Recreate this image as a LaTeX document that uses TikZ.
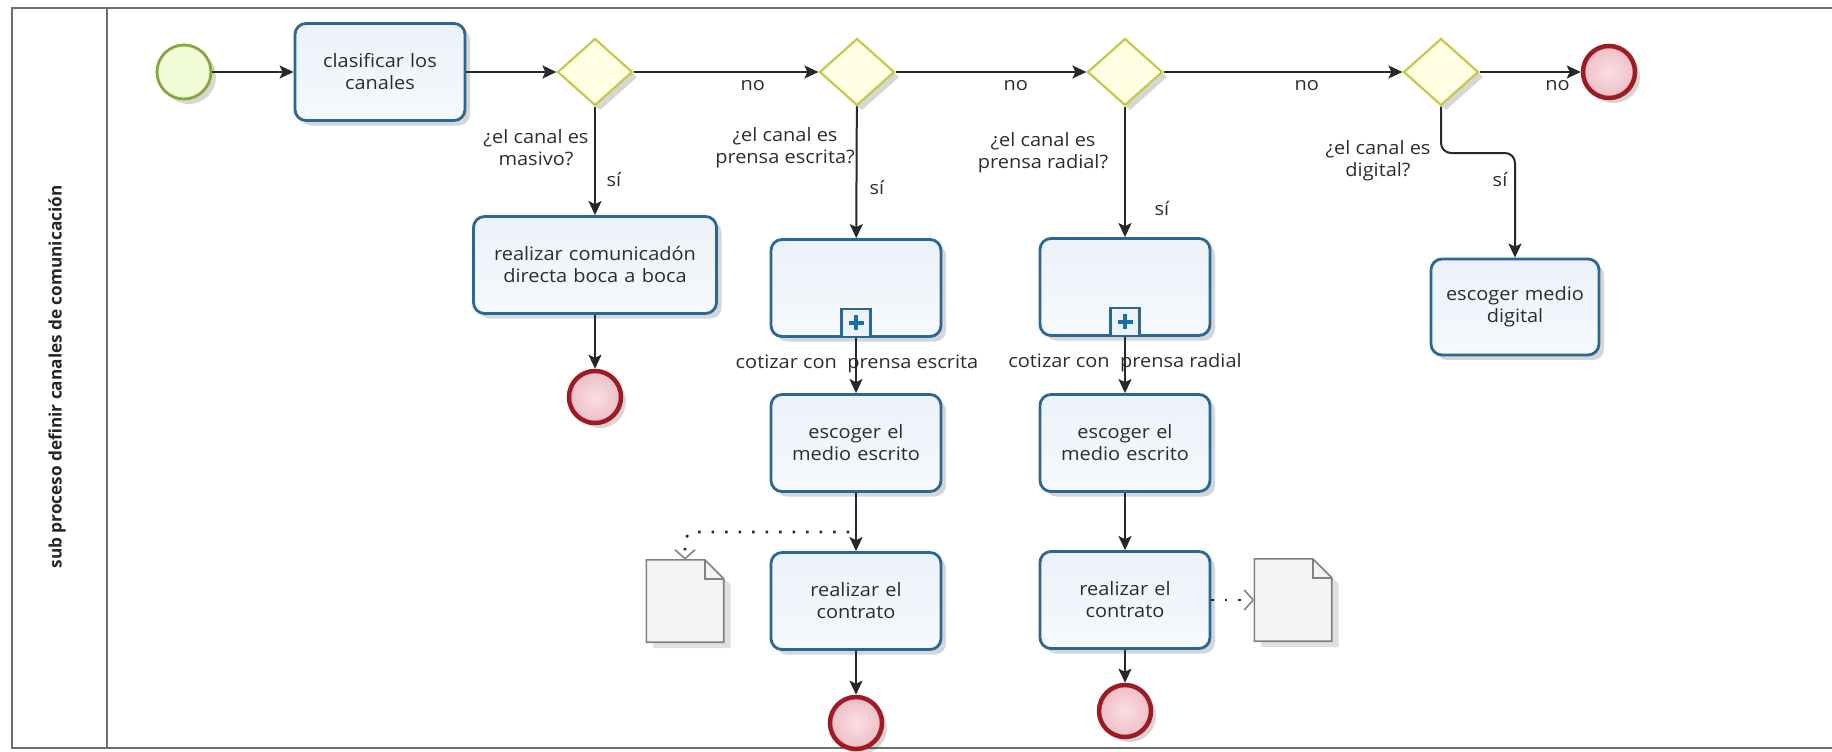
\documentclass[tikz,border=0pt]{standalone}
\usepackage{fontspec}
\setmainfont{Open Sans}[FakeStretch=1.08]
\newfontfamily\lanefont{Open Sans}
\usetikzlibrary{arrows.meta,shapes.geometric,shadows,calc}

\definecolor{taskb}{RGB}{43,103,148}
\definecolor{tasktop}{RGB}{236,242,250}
\definecolor{taskbot}{RGB}{246,249,253}
\definecolor{gwb}{RGB}{200,200,72}
\definecolor{gwf}{RGB}{255,254,226}
\definecolor{stb}{RGB}{128,170,58}
\definecolor{stf}{RGB}{240,250,212}
\definecolor{enb}{RGB}{160,26,36}
\definecolor{enin}{RGB}{250,222,228}
\definecolor{enout}{RGB}{238,190,198}
\definecolor{flowc}{RGB}{40,40,40}
\definecolor{poolc}{RGB}{110,110,110}
\definecolor{txt}{RGB}{45,45,45}
\definecolor{docb}{RGB}{130,130,130}
\definecolor{docf}{RGB}{244,244,244}
\definecolor{plusc}{RGB}{26,110,168}

\begin{document}
\begin{tikzpicture}[x=1pt,y=-1pt,
  every node/.style={font=\fontsize{18.5}{22}\selectfont, text=txt},
  softshadow/.style={drop shadow={shadow xshift=5pt,shadow yshift=-5pt,opacity=0.16,fill=black}},
  task/.style={draw=taskb, line width=2.8pt, rounded corners=11pt,
    top color=tasktop, bottom color=taskbot, minimum width=170pt,
    minimum height=97pt, align=center, text width=150pt, softshadow},
  gateway/.style={diamond, draw=gwb, line width=2.2pt, fill=gwf,
    minimum width=75pt, minimum height=67pt, inner sep=0pt, softshadow},
  startev/.style={circle, draw=stb, line width=2.8pt, fill=stf,
    minimum size=54pt, inner sep=0pt, softshadow},
  endev/.style={circle, draw=enb, line width=4.5pt, inner color=enin,
    outer color=enout, minimum size=52pt, inner sep=0pt, softshadow},
  submark/.style={draw=taskb, line width=2.2pt, fill=tasktop,
    minimum width=29pt, minimum height=28pt, inner sep=0pt, anchor=south},
  docbox/.style={minimum width=77pt, minimum height=82pt, inner sep=0pt},
  docline/.style={draw=docb, line width=1.6pt, fill=docf,
    drop shadow={shadow xshift=7pt,shadow yshift=-6pt,opacity=0.12,fill=black}},
  flow/.style={draw=flowc, line width=2pt,
    -{Stealth[length=14pt,width=13pt,inset=3pt]}},
  assoc/.style={draw=flowc, line width=2.6pt, dash pattern=on 2.5pt off 11pt,
    -{Straight Barb[length=9pt,width=20pt,line width=1.6pt,color=docb]}},
  lbl/.style={align=center, inner sep=1pt},
]
\useasboundingbox (0,0) rectangle (1832,752);

% pool and lane header
\draw[poolc, line width=2.4pt] (1832,8) -- (12,8) -- (12,748) -- (1832,748);
\draw[poolc, line width=2.4pt] (107,8) -- (107,748);
\node[rotate=90, font=\lanefont\bfseries\fontsize{17.2}{20}\selectfont, text=black!85]
  (lane) at (57,377) {sub proceso definir canales de comunicación};

% events, tasks and gateways
\node[startev] (start) at (184,72) {};
\node[task] (clasif) at (380,72) {clasificar los\\canales};
\node[gateway] (g1) at (595,72) {};
\node[gateway] (g2) at (857,72) {};
\node[gateway] (g3) at (1125,72) {};
\node[gateway] (g4) at (1441,72) {};
\node[endev] (endtop) at (1609,72) {};

\node[task, minimum width=243pt, text width=230pt] (boca) at (595,265)
  {realizar comunicadón\\directa boca a boca};
\node[endev] (endboca) at (595,397) {};

\node[task] (sub1) at (856,288) {};
\node[submark] (m1) at (sub1.south) {};
\node[lbl] (sub1lbl) at (857,364) {cotizar con\ \ prensa escrita};
\node[task] (esc1) at (856,443) {escoger el\\medio escrito};
\node[task] (real1) at (856,601) {realizar el\\contrato};
\node[endev] (end1) at (856,723) {};

\node[task] (sub2) at (1125,287) {};
\node[submark] (m2) at (sub2.south) {};
\node[lbl] (sub2lbl) at (1125,363) {cotizar con\ \ prensa radial};
\node[task] (esc2) at (1125,443) {escoger el\\medio escrito};
\node[task] (real2) at (1125,600) {realizar el\\contrato};
\node[endev] (end2) at (1125,711) {};

\node[task, minimum width=168pt, minimum height=96pt] (digital) at (1515,307)
  {escoger medio\\digital};

% plus markers of the collapsed sub-processes
\foreach \m in {m1,m2}{
  \draw[plusc, line width=3.4pt] ($(\m.center)+(-7.5,0)$) -- ($(\m.center)+(7.5,0)$)
    ($(\m.center)+(0,-7.5)$) -- ($(\m.center)+(0,7.5)$);
}

% data objects with folded corner
\node[docbox] (doc1) at (685,601) {};
\node[docbox] (doc2) at (1293,600) {};
\foreach \d in {doc1,doc2}{
  \path[docline] (\d.south west) -- (\d.north west) -- ($(\d.north east)+(-19,0)$)
    -- ($(\d.north east)+(0,19)$) -- (\d.south east) -- cycle;
  \draw[docb, line width=1.6pt] ($(\d.north east)+(-19,0)$) -- ($(\d.north east)+(-19,19)$)
    -- ($(\d.north east)+(0,19)$);
}

% sequence flows along the top
\draw[flow] (start) -- (clasif);
\draw[flow] (clasif) -- (g1);
\draw[flow] (g1) -- node[pos=0.645, below=6pt, lbl] (no1) {no} (g2);
\draw[flow] (g2) -- node[pos=0.63, below=6pt, lbl] (no2) {no} (g3);
\draw[flow] (g3) -- node[pos=0.6, below=6pt, lbl] (no3) {no} (g4);
\draw[flow] (g4) -- node[pos=0.77, below=6pt, lbl] (no4) {no} (endtop);

% branch: masivo
\draw[flow] (g1) -- (boca);
\node[lbl] (q1) at (536,148) {¿el canal es\\masivo?};
\node[lbl] (si1) at (614,180) {sí};
\draw[flow] (boca) -- (endboca);

% branch: prensa escrita
\draw[flow] (g2) -- (sub1);
\node[lbl] (q2) at (785,148) {¿el canal es\\prensa escrita?};
\node[lbl] (si2) at (877,188) {sí};
\draw[flow] (m1.south) -- (esc1);
\draw[flow] (esc1) -- (real1);
\draw[flow] (real1) -- (end1);

% branch: prensa radial
\draw[flow] (g3) -- (sub2);
\node[lbl] (q3) at (1043,153) {¿el canal es\\prensa radial?};
\node[lbl] (si3) at (1162,209) {sí};
\draw[flow] (m2.south) -- (esc2);
\draw[flow] (esc2) -- (real2);
\draw[flow] (real2) -- (end2);

% branch: digital
\coordinate (g4bend) at (1515,153);
\draw[flow, rounded corners=10pt] (g4.south) |- (g4bend) -- (digital.north);
\node[lbl] (q4) at (1378,161) {¿el canal es\\digital?};
\node[lbl] (si4) at (1500,180) {sí};

% data associations
\coordinate (a1) at (849,532);
\draw[assoc, rounded corners=10pt] (a1) -| (doc1.north);
\draw[assoc] (real2.east) -- (doc2.west);
\end{tikzpicture}
\end{document}
